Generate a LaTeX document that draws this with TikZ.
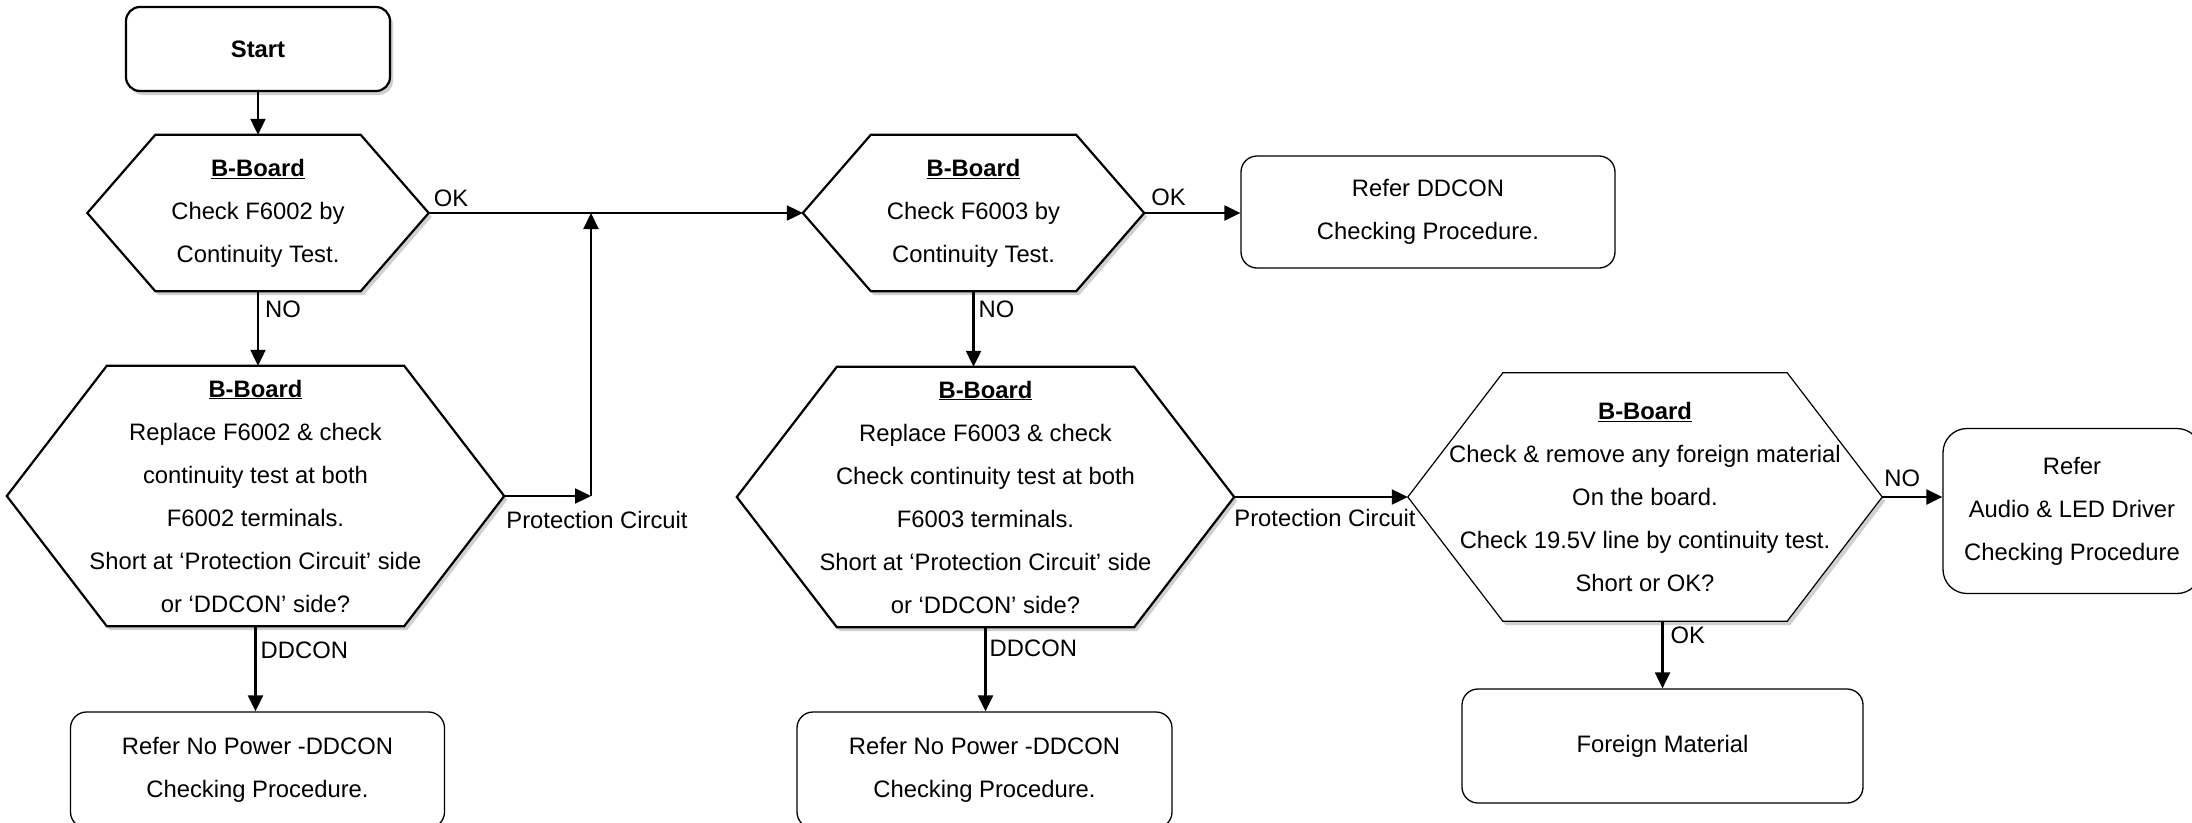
\documentclass[tikz,border=0pt]{standalone}
\usepackage{fontspec}
\setmainfont{Liberation Sans}
\usetikzlibrary{calc,arrows.meta,shadows,backgrounds}

% hexagon outline around a holder node: style, node name, side inset
\newcommand{\hexoutline}[3]{%
  \path[#1] (#2.west) -- ($(#2.north west)+(#3,0)$) -- ($(#2.north east)+(-#3,0)$)
    -- (#2.east) -- ($(#2.south east)+(-#3,0)$) -- ($(#2.south west)+(#3,0)$) -- cycle;}

\begin{document}
\begin{tikzpicture}[x=1pt,y=-1pt,
  every node/.style={font=\fontsize{23.8}{43}\selectfont},
  holder/.style={inner sep=0pt, align=center},
  softshadow/.style={drop shadow={shadow xshift=3pt, shadow yshift=-4pt, fill=black!60, opacity=0.3}},
  hexthick/.style={draw=black, line width=2.2pt, fill=white, softshadow},
  hexthin/.style={draw=black, line width=1.2pt, fill=white, softshadow},
  roundbox/.style={draw=black, line width=1.3pt, rounded corners=16pt, inner sep=0pt, align=center, fill=white},
  startbox/.style={draw=black, line width=2.2pt, rounded corners=14pt, inner sep=0pt, fill=white, softshadow},
  conn/.style={line width=2.2pt, -{Triangle[length=16pt,width=15pt]}},
  lbl/.style={inner sep=0pt, anchor=west}]

\useasboundingbox (0,0) rectangle (2192,822);

% start
\node[startbox, minimum width=264pt, minimum height=84pt] (start) at (258,49) {\textbf{Start}};

% left column
\node[holder, minimum width=341pt, minimum height=156pt] (h1) at (258,213)
  {\underline{\textbf{B-Board}}\\Check F6002 by\\Continuity Test.};
\node[holder, minimum width=497pt, minimum height=260pt] (h2) at (255.5,496)
  {\underline{\textbf{B-Board}}\\Replace F6002 \& check\\continuity test at both\\F6002 terminals.\\Short at ‘Protection Circuit’ side\\or ‘DDCON’ side?};
\node[roundbox, minimum width=374pt, minimum height=116pt] (r2) at (257.5,770)
  {Refer No Power -DDCON\\Checking Procedure.};

% middle column
\node[holder, minimum width=341pt, minimum height=156pt] (h3) at (973.5,213)
  {\underline{\textbf{B-Board}}\\Check F6003 by\\Continuity Test.};
\node[roundbox, minimum width=374pt, minimum height=112pt] (r1) at (1428,212)
  {Refer DDCON\\Checking Procedure.};
\node[holder, minimum width=497pt, minimum height=260pt] (h4) at (985.5,497)
  {\underline{\textbf{B-Board}}\\Replace F6003 \& check\\Check continuity test at both\\F6003 terminals.\\Short at ‘Protection Circuit’ side\\or ‘DDCON’ side?};
\node[roundbox, minimum width=375pt, minimum height=116pt] (r3) at (984.5,770)
  {Refer No Power -DDCON\\Checking Procedure.};

% right column
\node[holder, minimum width=474pt, minimum height=248pt] (h5) at (1645,497)
  {\underline{\textbf{B-Board}}\\Check \& remove any foreign material\\On the board.\\Check 19.5V line by continuity test.\\Short or OK?};
\node[roundbox, rounded corners=24pt, minimum width=258pt, minimum height=165pt] (r4) at (2072,511)
  {Refer\\Audio \& LED Driver\\Checking Procedure};
\node[roundbox, minimum width=401pt, minimum height=114pt] (r5) at (1662.5,746)
  {Foreign Material};

% hexagon outlines behind the texts
\begin{pgfonlayer}{background}
  \fill[white] (0,0) rectangle (2192,822);
  \hexoutline{hexthick}{h1}{68}
  \hexoutline{hexthick}{h2}{100}
  \hexoutline{hexthick}{h3}{68}
  \hexoutline{hexthick}{h4}{100}
  \hexoutline{hexthin}{h5}{95}
\end{pgfonlayer}

% connectors
\draw[conn] (start.south) -- (h1.north);
\draw[conn] (h1.east) -- (h1.east -| h3.west);
\draw[conn] (h1.south) -- (h1.south |- h2.north);
\coordinate (pcA) at (591,496);
\draw[conn] (h2.east) -- (pcA);
\draw[conn] (pcA) -- (pcA |- h1.east);
\draw[conn] (h2.south) -- (h2.south |- r2.north);
\draw[conn] (h3.east) -- (h3.east -| r1.west);
\draw[conn] (h3.south) -- (h3.south |- h4.north);
\draw[conn] (h4.east) -- (h5.west);
\draw[conn] (h4.south) -- (h4.south |- r3.north);
\draw[conn] (h5.east) -- (h5.east -| r4.west);
\draw[conn] (r5.north |- h5.south) -- (r5.north);

% connector labels
\node[lbl] (okA) at ($(h1.east)+(5,-15)$) {OK};
\node[lbl] (noA) at ($(h1.south)+(7,18)$) {NO};
\node[lbl] (pcLA) at ($(h2.east)+(2,24)$) {Protection Circuit};
\node[lbl] (ddA) at ($(h2.south)+(5,24)$) {DDCON};
\node[lbl] (okB) at ($(h3.east)+(7,-16)$) {OK};
\node[lbl] (noB) at ($(h3.south)+(5,18)$) {NO};
\node[lbl] (pcLB) at ($(h4.east)+(0,21)$) {Protection Circuit};
\node[lbl] (ddB) at ($(h4.south)+(4,21)$) {DDCON};
\node[lbl] (noC) at ($(h5.east)+(2,-19)$) {NO};
\node[lbl] (okC) at ($(r5.north |- h5.south)+(8,14)$) {OK};
\end{tikzpicture}
\end{document}
